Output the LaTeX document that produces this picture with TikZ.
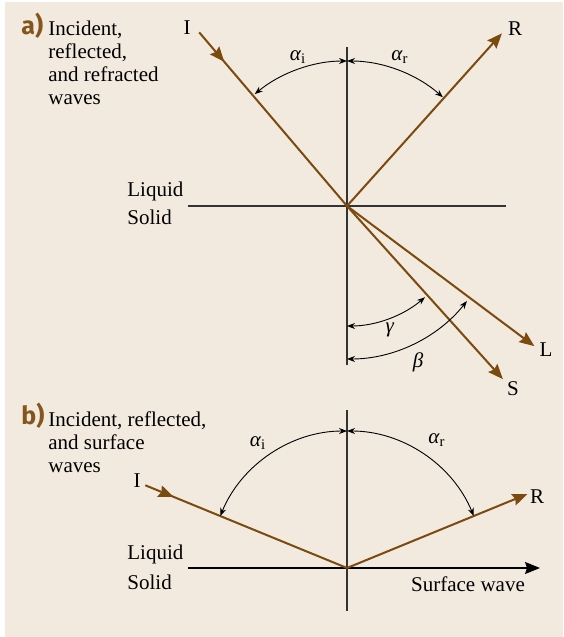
\documentclass[tikz,border=0pt]{standalone}
\usepackage{fontspec}
\setmainfont{Liberation Serif}
\newfontfamily\tagfont{Fira Sans}
\usetikzlibrary{arrows.meta, calc, decorations.markings}
\definecolor{paper}{HTML}{F2EADF}
\definecolor{wave}{HTML}{7A4A0E}
\definecolor{tagbrown}{HTML}{85561C}
\definecolor{axisgray}{HTML}{333333}
\newcommand{\angsym}[2]{\textit{#1}\textsubscript{#2}}
\tikzset{
  axisline/.style = {draw=axisgray, line width=0.9pt},
  ray/.style      = {draw=wave, color=wave, line width=1pt,
                     -{Stealth[length=7.5pt, width=6pt, inset=1pt]}},
  inray/.style    = {draw=wave, color=wave, line width=1pt,
                     postaction={decorate},
                     decoration={markings, mark=at position #1 with
                       {\arrow{Stealth[length=7.5pt, width=6pt, inset=1pt]}}}},
  surf/.style     = {draw=black, line width=0.8pt,
                     -{Stealth[length=7.5pt, width=6pt, inset=1pt]}},
  angarr/.style   = {draw=black, line width=0.45pt,
                     {Stealth[length=4pt, width=3pt]}-{Stealth[length=4pt, width=3pt]}},
  lbl/.style      = {inner sep=0pt},
  desc/.style     = {inner sep=0pt, align=left,
                     font=\rmfamily\fontsize{10.5}{11.5}\selectfont},
  tag/.style      = {inner sep=0pt, text=tagbrown,
                     font=\tagfont\bfseries\fontsize{12.5}{13}\selectfont},
}

\begin{document}
\begin{tikzpicture}[x=0.5pt, y=0.5pt,
                    font=\rmfamily\fontsize{10.5}{11.5}\selectfont]

\useasboundingbox (0,0) rectangle (563,637);
\fill[paper] (5,0) rectangle (563,635);

% ═══════════════════════════════════════════════════════════
%  a) INCIDENT, REFLECTED AND REFRACTED WAVES
% ═══════════════════════════════════════════════════════════

\coordinate (Oa) at (347,431);

\node[tag, anchor=base west] (a-tag) at (21,602) {a)};
\node[desc, anchor=north west] (a-text) at (48,616)
  {Incident,\\reflected,\\and refracted\\waves};

% ── Interface and normal ────────────────────────────────────
\coordinate (a-top)   at ($(Oa)+(0,159)$);
\coordinate (a-bot)   at ($(Oa)+(0,-159)$);
\coordinate (a-left)  at ($(Oa)+(-159,0)$);
\coordinate (a-right) at ($(Oa)+(159,0)$);

\draw[axisline] (a-top)  -- (a-bot);
\draw[axisline] (a-left) -- (a-right);

\node[lbl, anchor=base west] (a-liq) at (127,440) {Liquid};
\node[lbl, anchor=base west] (a-sol) at (127,412) {Solid};

% ── Rays ────────────────────────────────────────────────────
\coordinate (a-Is) at ($(Oa)+(130.4:228)$);
\coordinate (a-Re) at ($(Oa)+(48.1:232)$);
\coordinate (a-Le) at ($(Oa)+(-36.8:234)$);
\coordinate (a-Se) at ($(Oa)+(-48:233)$);

\draw[inray=0.17] (a-Is) -- (Oa);
\draw[ray] (Oa) -- (a-Re);
\draw[ray] (Oa) -- (a-Le);
\draw[ray] (Oa) -- (a-Se);

\node[lbl] (a-I) at ($(Oa)+(-160,178)$) {I};
\node[lbl] (a-R) at ($(Oa)+(168,177)$)  {R};
\node[lbl] (a-L) at ($(Oa)+(199,-144)$) {L};
\node[lbl] (a-S) at ($(Oa)+(166,-183)$) {S};

% ── Angles ──────────────────────────────────────────────────
\draw[angarr] ($(Oa)+(90:145)$)  arc[start angle=90,  end angle=129.5, radius=145];
\draw[angarr] ($(Oa)+(90:145)$)  arc[start angle=90,  end angle=48.6,  radius=145];
\draw[angarr] ($(Oa)+(-90:120)$) arc[start angle=-90, end angle=-49.5, radius=120];
\draw[angarr] ($(Oa)+(-90:153)$) arc[start angle=-90, end angle=-38.4, radius=153];

\node[lbl] (a-ai) at ($(Oa)+(-49,149)$) {\angsym{α}{i}};
\node[lbl] (a-ar) at ($(Oa)+(53,149)$)  {\angsym{α}{r}};
\node[lbl] (a-g)  at ($(Oa)+(43,-124)$) {\textit{γ}};
\node[lbl] (a-b)  at ($(Oa)+(71,-156)$) {\textit{β}};

% ═══════════════════════════════════════════════════════════
%  b) INCIDENT, REFLECTED AND SURFACE WAVES
% ═══════════════════════════════════════════════════════════

\coordinate (Ob) at (347,69);

\node[tag, anchor=base west] (b-tag) at (21,212) {b)};
\node[desc, anchor=north west] (b-text) at (48,226)
  {Incident, reflected,\\and surface\\waves};

% ── Interface and normal ────────────────────────────────────
\coordinate (b-top)   at ($(Ob)+(0,158)$);
\coordinate (b-bot)   at ($(Ob)+(0,-43)$);
\coordinate (b-left)  at ($(Ob)+(-159,0)$);
\coordinate (b-right) at ($(Ob)+(193,0)$);

\draw[axisline] (b-top) -- (b-bot);
\draw[surf] (b-left) -- (b-right);

\node[lbl, anchor=base west] (b-liq) at (127,77) {Liquid};
\node[lbl, anchor=base west] (b-sol) at (127,47) {Solid};
\node[lbl] (b-sw) at ($(Ob)+(121,-16)$) {Surface wave};

% ── Rays ────────────────────────────────────────────────────
\coordinate (b-Is) at ($(Ob)+(157.7:218)$);
\coordinate (b-Re) at ($(Ob)+(22.3:195)$);

\draw[inray=0.14] (b-Is) -- (Ob);
\draw[ray] (Ob) -- (b-Re);

\node[lbl] (b-I) at ($(Ob)+(-210,87)$) {I};
\node[lbl] (b-R) at ($(Ob)+(190,71)$)  {R};

% ── Angles ──────────────────────────────────────────────────
\draw[angarr] ($(Ob)+(90:137)$) arc[start angle=90, end angle=157.7, radius=137];
\draw[angarr] ($(Ob)+(90:137)$) arc[start angle=90, end angle=22.3,  radius=137];

\node[lbl] (b-ai) at ($(Ob)+(-89,125)$) {\angsym{α}{i}};
\node[lbl] (b-ar) at ($(Ob)+(90,128)$)  {\angsym{α}{r}};

\end{tikzpicture}
\end{document}
